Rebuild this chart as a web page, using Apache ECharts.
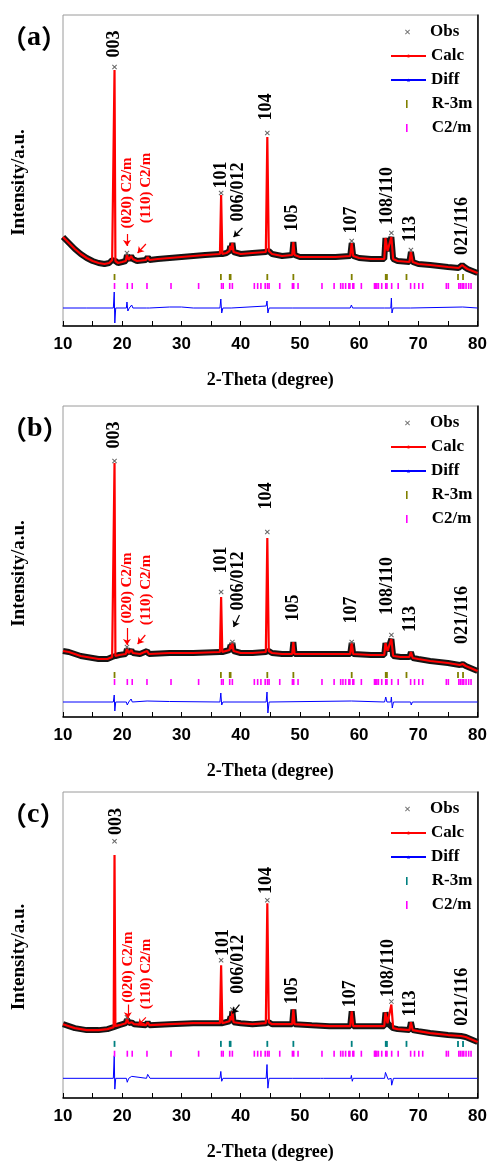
<!DOCTYPE html>
<html>
<head>
<meta charset="utf-8">
<script src="https://cdn.jsdelivr.net/npm/echarts@6/dist/echarts.min.js"></script>
<style>
  html, body { margin: 0; padding: 0; background: #fff; }
  #chart { width: 490px; height: 1162px; }
</style>
</head>
<body>
<div id="chart"></div>
<script>
// ---- data (2-theta, intensity a.u.) ----

// panel (a)
const calcA = [[10,1780],[10.5,1720],[11,1660],[12,1540],[13,1440],[14,1360],[15,1300],[16,1260],[17,1240],[17.8,1260],[18.3,1320],[18.55,1300],[18.7,5120],[18.85,1300],[19.3,1260],[20,1280],[20.6,1300],[20.8,1420],[21.1,1320],[21.5,1400],[21.8,1340],[22.5,1300],[24,1320],[24.3,1380],[24.6,1320],[26,1340],[28,1360],[30,1380],[32,1400],[34,1420],[36.5,1440],[36.7,2620],[36.9,1440],[37.6,1460],[38.1,1500],[38.25,1600],[38.4,1520],[38.6,1660],[38.8,1480],[40,1440],[42,1460],[44.25,1480],[44.5,3780],[44.75,1500],[45.3,1440],[47,1400],[48.7,1420],[48.9,1680],[49.1,1420],[50,1380],[54,1380],[56,1380],[58.5,1400],[58.75,1660],[59,1400],[60,1360],[62,1340],[64.25,1340],[64.45,1760],[64.8,1500],[65.1,1520],[65.45,1780],[65.75,1340],[66.5,1300],[68.5,1280],[68.75,1480],[69.05,1280],[70,1240],[72,1220],[75,1180],[76.8,1160],[77.4,1220],[77.8,1180],[78.3,1140],[80,1060]];
const obsTipsA = [[18.7,5180],[20.8,1460],[36.7,2660],[44.5,3860],[58.75,1700],[65.45,1860],[68.75,1520]];
const diffA = [[10,360],[14,360],[18.5,360],[18.65,680],[18.75,60],[18.9,360],[20.7,360],[20.8,480],[20.95,300],[21.2,360],[21.6,420],[21.8,360],[24.1,360],[24.3,400],[24.6,360],[28,380],[30,380],[32,360],[36.5,360],[36.65,540],[36.8,260],[37,360],[38.4,360],[38.5,400],[38.7,360],[44.3,400],[44.45,500],[44.6,260],[44.8,360],[48.8,360],[48.9,320],[49.1,360],[58.5,360],[58.7,420],[58.9,360],[64.3,360],[64.45,400],[64.6,360],[65.35,360],[65.45,560],[65.55,260],[65.75,360],[68.7,360],[68.8,340],[69,360],[77.5,380],[80,360]];

// panel (b)
const calcB = [[10,1320],[11,1300],[12,1260],[13,1220],[14,1200],[15,1180],[16,1160],[17.5,1160],[18.3,1200],[18.55,1200],[18.7,5080],[18.85,1220],[19.5,1240],[20.6,1260],[20.8,1360],[21.1,1280],[21.55,1340],[21.8,1280],[23,1260],[24.2,1320],[24.5,1260],[28,1280],[32,1280],[36.5,1300],[36.7,2400],[36.9,1300],[38.1,1340],[38.3,1440],[38.45,1360],[38.6,1480],[38.8,1320],[40,1280],[42,1280],[44.25,1300],[44.5,3580],[44.75,1320],[45.3,1280],[47,1260],[48.7,1260],[48.9,1500],[49.1,1260],[52,1260],[55,1260],[58.5,1260],[58.75,1480],[59,1260],[62,1240],[64.25,1240],[64.45,1480],[64.8,1320],[65.1,1340],[65.45,1560],[65.75,1220],[67,1200],[68.5,1200],[68.75,1300],[69.05,1180],[70,1160],[72,1120],[75,1080],[77,1040],[77.5,1060],[78,1020],[80,920]];
const obsTipsB = [[18.7,5120],[20.8,1400],[36.7,2500],[38.6,1500],[44.5,3700],[58.75,1500],[65.45,1640]];
const diffB = [[10,300],[18.5,300],[18.65,440],[18.75,120],[18.9,300],[20.7,300],[20.85,240],[21.1,300],[21.5,360],[21.7,300],[24.2,320],[24.5,300],[28,310],[36.5,300],[36.65,480],[36.8,240],[37,300],[44.3,300],[44.45,500],[44.6,80],[44.8,300],[58.7,320],[58.9,300],[64.3,300],[64.5,400],[64.7,300],[65.35,300],[65.45,400],[65.6,180],[65.8,300],[68.7,300],[68.8,240],[69,300],[80,300]];

// panel (c)
const calcC = [[10,1500],[11,1460],[12,1420],[13,1400],[14,1380],[16,1380],[17.5,1400],[18.55,1440],[18.7,4940],[18.85,1460],[19.5,1480],[20.6,1520],[20.8,1600],[21.1,1520],[21.6,1540],[22,1500],[24,1480],[24.3,1540],[24.6,1480],[28,1500],[32,1520],[36.5,1520],[36.7,2700],[36.9,1520],[38.1,1560],[38.3,1660],[38.45,1580],[38.6,1760],[38.8,1540],[40,1520],[42,1500],[44.25,1520],[44.5,3960],[44.75,1540],[45.3,1500],[47,1500],[48.7,1500],[48.9,1800],[49.1,1500],[52,1480],[55,1460],[58.5,1460],[58.75,1760],[59,1460],[62,1460],[64.25,1460],[64.45,1740],[64.8,1520],[65.1,1540],[65.45,1900],[65.75,1420],[66.5,1400],[68.5,1380],[68.75,1540],[69.05,1380],[70,1360],[72,1320],[75,1280],[77.2,1260],[77.5,1280],[78,1240],[80,1140]];
const obsTipsC = [[18.7,5220],[20.8,1640],[36.7,2800],[38.6,1800],[44.5,4020],[65.45,1960]];
const diffC = [[10,400],[18.5,400],[18.65,860],[18.75,180],[18.9,400],[20.7,400],[20.85,320],[21.1,400],[21.6,440],[21.8,400],[24.1,400],[24.3,480],[24.7,400],[36.5,400],[36.65,540],[36.8,340],[37,400],[44.3,400],[44.45,680],[44.6,200],[44.8,400],[48.8,400],[48.9,440],[49.1,400],[53.5,400],[53.7,360],[54,400],[58.6,400],[58.7,460],[58.85,340],[59,400],[64.3,400],[64.45,520],[64.9,380],[65.4,400],[65.5,260],[65.8,400],[80,400]];

// Bragg reflection positions (same in all panels)
const r3mTicks = [18.7,36.66,38.15,38.3,44.5,48.9,58.75,64.5,64.7,68.0,76.7,77.55];
const c2mTicks = [18.7,20.86,21.69,24.18,28.24,32.9,36.77,37.05,38.15,38.6,42.31,42.87,43.42,44.14,44.53,44.8,46.6,48.74,48.96,49.69,53.73,55.78,56.89,57.27,57.72,58.27,58.44,58.94,59.1,60.38,62.6,62.7,62.8,63.0,63.26,63.82,64.5,64.7,65.5,66.6,68.7,69.36,70.08,70.74,74.73,75.07,76.84,77.1,77.4,77.67,78.06,78.5,78.9];

// hkl annotations [text, 2theta, intensity]
const labelsA = [['003',18.7,5640],['101',36.77,3020],['006/012',39.6,2680],['104',44.4,4380],['105',48.75,2160],['107',58.7,2120],['108/110',64.7,2600],['113',68.7,1940],['021/116',77.35,2000]];
const labelsB = [['003',18.7,5640],['101',36.7,3140],['006/012',39.6,2720],['104',44.4,4420],['105',48.9,2180],['107',58.7,2140],['108/110',64.7,2620],['113',68.7,1960],['021/116',77.35,2040]];
const labelsC = [['003',18.95,5620],['101',37.1,3160],['006/012',39.6,2720],['104',44.3,4420],['105',48.65,2180],['107',58.5,2120],['108/110',64.9,2640],['113',68.7,1920],['021/116',77.5,2060]];
const redLabelsA = [['(020) C2/m',20.8,2660],['(110) C2/m',24.0,2760]];
const redLabelsB = [['(020) C2/m',20.8,2580],['(110) C2/m',24.0,2540]];
const redLabelsC = [['(020) C2/m',20.95,2660],['(110) C2/m',24.1,2520]];
// arrows [from, to, colour]
const arrowsA = [[[20.8,1840],[20.8,1600],'#ff0000'],[[24.0,1640],[22.6,1460],'#ff0000'],[[40.3,1960],[38.8,1780],'#000']];
const arrowsB = [[[20.8,1780],[20.8,1440],'#ff0000'],[[23.9,1640],[22.6,1460],'#ff0000'],[[39.8,2040],[38.8,1800],'#000']];
const arrowsC = [[[20.95,1900],[20.95,1620],'#ff0000'],[[24.0,1640],[22.7,1480],'#ff0000'],[[39.8,1900],[38.6,1720],'#000']];

// ---- layout ----
const panels = [
  { tag: 'a', top: 15,  calc: calcA, obsTips: obsTipsA, diff: diffA, labels: labelsA, red: redLabelsA, arrows: arrowsA, rLevel: 980,  cLevel: 800, rColor: '#808000', cColor: '#ff00ff' },
  { tag: 'b', top: 406, calc: calcB, obsTips: obsTipsB, diff: diffB, labels: labelsB, red: redLabelsB, arrows: arrowsB, rLevel: 840,  cLevel: 700, rColor: '#808000', cColor: '#ff00ff' },
  { tag: 'c', top: 792, calc: calcC, obsTips: obsTipsC, diff: diffC, labels: labelsC, red: redLabelsC, arrows: arrowsC, rLevel: 1100, cLevel: 900, rColor: '#008080', cColor: '#ff00ff' }
];
const plotH = 311;
const yMax = 6220;

const serif = 'Liberation Serif, Times New Roman, serif';
const sans = 'Liberation Sans, Arial, sans-serif';
const crossPath = 'path://M0,0.7L0.7,0L5,4.3L4.3,5ZM4.3,0L5,0.7L0.7,5L0,4.3Z';
const tickPath = 'path://M0,0h1v5h-1z';

// the observed crosses form a dark band along the background; the sharp peak
// tips only show a few loose crosses, so leave those out of the band
const obsBand = pts => pts.filter((pt, k) => {
  const prev = pts[k - 1], next = pts[k + 1];
  return !(prev && next && pt[1] - Math.max(prev[1], next[1]) > 300);
});

const chart = echarts.init(document.getElementById('chart'), null, { renderer: 'canvas' });

const grid = [], xAxis = [], yAxis = [], series = [], legend = [], title = [];

// rotated bold annotation text
const boldLabel = (size, color) => ({
  show: true, position: 'inside', rotate: 90, formatter: '{b}', opacity: 1,
  fontFamily: serif, fontWeight: 'bold', fontSize: size, color: color, textBorderWidth: 0
});

panels.forEach((p, i) => {
  grid.push({ left: 63, top: p.top, width: 421, height: plotH, show: true, borderColor: '#9a9a9a', borderWidth: 1, backgroundColor: 'transparent' });

  xAxis.push({
    type: 'value', gridIndex: i, min: 10, max: 80, interval: 5,
    axisLine: { show: true, onZero: false, lineStyle: { color: '#000', width: 1.5 } },
    axisTick: { show: true, inside: true, length: 5, lineStyle: { color: '#000', width: 1 } },
    axisLabel: {
      formatter: v => (v % 10 === 0 ? String(v) : ''),
      fontFamily: sans, fontWeight: 'bold', fontSize: 17, color: '#000', margin: 10
    },
    splitLine: { show: false },
    name: '2-Theta (degree)', nameLocation: 'middle', nameGap: 45,
    nameTextStyle: { fontFamily: serif, fontWeight: 'bold', fontSize: 18, color: '#000' }
  });

  // left axis: carries the data, only the name is shown
  yAxis.push({
    type: 'value', gridIndex: i, min: 0, max: yMax,
    axisLine: { show: false }, axisTick: { show: false }, axisLabel: { show: false }, splitLine: { show: false },
    name: 'Intensity/a.u.', nameLocation: 'middle', nameGap: 34, nameRotate: 90,
    nameTextStyle: { fontFamily: serif, fontWeight: 'bold', fontSize: 19, color: '#000', padding: [0, 24, 0, 0] }
  });
  // right axis: just the black frame line
  yAxis.push({
    type: 'value', gridIndex: i, position: 'right', min: 0, max: yMax,
    axisLine: { show: true, lineStyle: { color: '#000', width: 1.5 } },
    axisTick: { show: false }, axisLabel: { show: false }, splitLine: { show: false }
  });

  const yi = 2 * i;

  series.push({
    type: 'line', name: 'Obs', xAxisIndex: i, yAxisIndex: yi, data: obsBand(p.calc),
    symbol: 'none', lineStyle: { color: '#151515', width: 6 }, itemStyle: { color: '#777' },
    silent: true, z: 1
  });
  series.push({
    type: 'scatter', name: 'Obs', xAxisIndex: i, yAxisIndex: yi, data: p.obsTips,
    symbol: crossPath, symbolSize: 5, itemStyle: { color: '#666', opacity: 1 }, silent: true, z: 4
  });
  series.push({
    type: 'line', name: 'Calc', xAxisIndex: i, yAxisIndex: yi, data: p.calc,
    symbol: 'none', lineStyle: { color: '#ff0000', width: 2.2 }, itemStyle: { color: '#ff0000' },
    silent: true, z: 3
  });
  series.push({
    type: 'line', name: 'Diff', xAxisIndex: i, yAxisIndex: yi, data: p.diff,
    symbol: 'triangle', showSymbol: false, lineStyle: { color: '#0000ff', width: 1 }, itemStyle: { color: '#0000ff' },
    silent: true, z: 3
  });
  series.push({
    type: 'scatter', name: 'R-3m', xAxisIndex: i, yAxisIndex: yi,
    data: r3mTicks.map(t => [t, p.rLevel]),
    symbol: 'rect', symbolSize: [1.8, 6], itemStyle: { color: p.rColor, opacity: 1 }, silent: true, z: 3
  });
  series.push({
    type: 'scatter', name: 'C2/m', xAxisIndex: i, yAxisIndex: yi,
    data: c2mTicks.map(t => [t, p.cLevel]),
    symbol: 'rect', symbolSize: [1.6, 6], itemStyle: { color: p.cColor, opacity: 1 }, silent: true, z: 3
  });

  // hkl labels and the pointer arrows
  series.push({
    type: 'scatter', name: 'hkl', xAxisIndex: i, yAxisIndex: yi, symbolSize: 0, silent: true, z: 6,
    itemStyle: { color: '#000', opacity: 1 },
    data: p.labels.map(l => ({ name: l[0], value: [l[1], l[2]] })),
    label: boldLabel(18, '#000'),
    markLine: {
      silent: true, animation: false, symbol: ['none', 'arrow'], symbolSize: 6,
      label: { show: false },
      data: p.arrows.map(a => [
        { coord: a[0], lineStyle: { color: a[2], width: 1.2, type: 'solid', opacity: 1 } },
        { coord: a[1], lineStyle: { color: a[2], width: 1.2, type: 'solid', opacity: 1 } }
      ])
    }
  });
  series.push({
    type: 'scatter', name: 'phase', xAxisIndex: i, yAxisIndex: yi, symbolSize: 0, silent: true, z: 6,
    itemStyle: { color: '#ff0000', opacity: 1 },
    data: p.red.map(l => ({ name: l[0], value: [l[1], l[2]] })),
    label: boldLabel(15, '#ff0000')
  });

  // legend, three blocks so each symbol gets its own size; text always starts at x=430
  const legText = { fontFamily: serif, fontWeight: 'bold', fontSize: 17, color: '#000', lineHeight: 24 };
  const base = { orient: 'vertical', itemGap: 0, padding: 0, selectedMode: false };
  legend.push(Object.assign({}, base, {
    left: 405, top: p.top + 5, itemWidth: 5, itemHeight: 5,
    textStyle: Object.assign({}, legText, { padding: [0, 0, 0, 15] }),
    data: [{ name: 'Obs', icon: crossPath, itemStyle: { color: '#777' } }]
  }));
  legend.push(Object.assign({}, base, {
    left: 390, top: p.top + 29, itemWidth: 35, itemHeight: 4,
    textStyle: legText,
    data: ['Calc', 'Diff']
  }));
  legend.push(Object.assign({}, base, {
    left: 406, top: p.top + 77, itemWidth: 2, itemHeight: 8,
    textStyle: Object.assign({}, legText, { padding: [0, 0, 0, 19] }),
    data: [
      { name: 'R-3m', icon: tickPath, itemStyle: { color: p.rColor } },
      { name: 'C2/m', icon: tickPath, itemStyle: { color: p.cColor } }
    ]
  }));

  // panel tag
  title.push({
    text: '{p|（}{l|' + p.tag + '}{p|）}',
    left: -4, top: p.top + 4,
    textStyle: {
      rich: {
        p: { fontFamily: 'Noto Sans CJK SC', fontSize: 26, color: '#000' },
        l: { fontFamily: serif, fontSize: 28, color: '#000' }
      }
    }
  });
});

chart.setOption({
  animation: false,
  backgroundColor: '#fff',
  title, grid, xAxis, yAxis, legend, series
});
</script>
</body>
</html>
